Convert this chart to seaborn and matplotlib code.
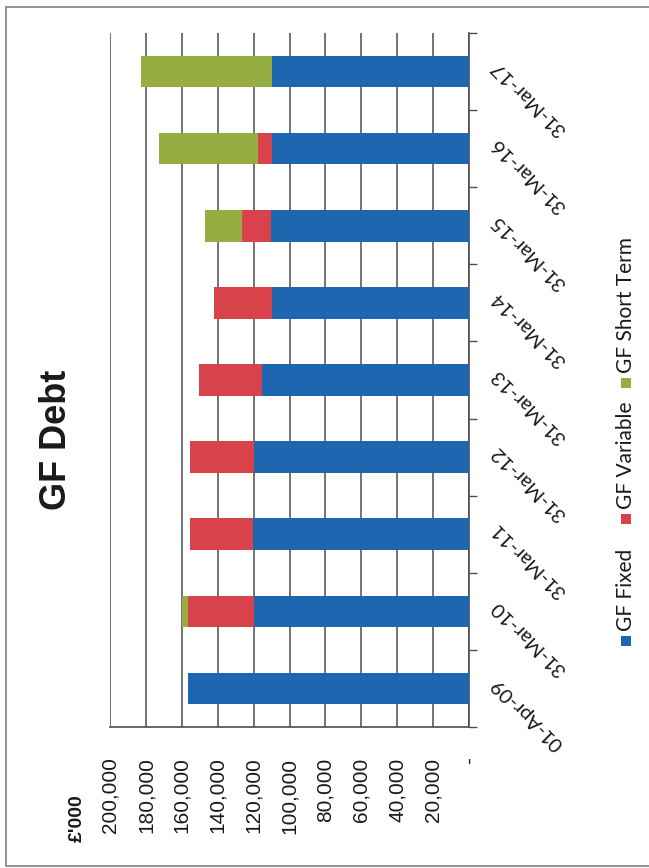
import matplotlib
matplotlib.use("Agg")
import matplotlib.pyplot as plt
from matplotlib.patches import Rectangle
from matplotlib.lines import Line2D
from matplotlib.transforms import ScaledTranslation
import seaborn as sns
import pandas as pd
import numpy as np

# Balance dates (chronological) and debt components in £'000
dates = ["01-Apr-09", "31-Mar-10", "31-Mar-11", "31-Mar-12", "31-Mar-13",
         "31-Mar-14", "31-Mar-15", "31-Mar-16", "31-Mar-17"]
gf_fixed = [156400, 119800, 120100, 120000, 115300, 109800, 110100, 110000, 110000]
gf_variable = [0, 36700, 35300, 35300, 35200, 32300, 16400, 7300, 0]
gf_short_term = [0, 3500, 0, 0, 0, 0, 20800, 55200, 73000]
series_names = ["GF Fixed", "GF Variable", "GF Short Term"]
value_ticks = [0, 20000, 40000, 60000, 80000, 100000, 120000, 140000, 160000, 180000, 200000]

colors = {"GF Fixed": "#1F66B0", "GF Variable": "#D8434B", "GF Short Term": "#96AE41"}

df = pd.DataFrame({"date": dates, "GF Fixed": gf_fixed,
                   "GF Variable": gf_variable, "GF Short Term": gf_short_term})
df["top_variable"] = df["GF Fixed"] + df["GF Variable"]
df["top_short"] = df["top_variable"] + df["GF Short Term"]

sns.set_style("white")
plt.rcParams["font.family"] = ["Liberation Sans", "DejaVu Sans"]

W, H = 649, 868
def fpx(x, y):
    return x / W, 1 - y / H

fig = plt.figure(figsize=(W / 100, H / 100), dpi=100)
x0, y0 = fpx(110, 727)
x1, y1 = fpx(469, 33)
ax = fig.add_axes([x0, y0, x1 - x0, y1 - y0])

# Stacked bars: draw cumulative totals from the top layer down
order = dates[::-1]
for col, name in [("top_short", "GF Short Term"), ("top_variable", "GF Variable"), ("GF Fixed", "GF Fixed")]:
    sns.barplot(data=df, y="date", x=col, order=order, orient="h", color=colors[name],
                width=0.41, saturation=1, errorbar=None, linewidth=0, ax=ax, zorder=3)

ax.set_xlim(200000, 0)
ax.set_ylim(8.5, -0.5)
ax.set_xlabel("")
ax.set_ylabel("")

grid_c = "#4d4d4d"
ax.set_xticks(value_ticks)
ax.set_xticklabels(["-" if v == 0 else f"{v:,}" for v in value_ticks])
ax.xaxis.grid(True, color=grid_c, lw=1.1, zorder=0)
ax.yaxis.grid(False)
ax.tick_params(axis="x", direction="out", length=6, width=1, color=grid_c,
               pad=16, labelsize=15, labelrotation=90, labelcolor="#1a1a1a")

for s in ["left", "top"]:
    ax.spines[s].set_visible(False)
for s in ["right", "bottom"]:
    ax.spines[s].set_color(grid_c)
    ax.spines[s].set_linewidth(1.2)

ax.yaxis.tick_right()
ax.set_yticks(np.arange(-0.5, 9, 1), minor=True)
ax.tick_params(axis="y", which="major", length=0, pad=18)
ax.tick_params(axis="y", which="minor", direction="out", length=6, width=1, color=grid_c)
lift = ScaledTranslation(0, 8 / 100, fig.dpi_scale_trans)
for lbl in ax.get_yticklabels():
    lbl.set_rotation(135)
    lbl.set_rotation_mode("anchor")
    lbl.set_ha("right")
    lbl.set_va("center")
    lbl.set_family(["Lato", "DejaVu Sans"])
    lbl.set_fontsize(14.5)
    lbl.set_color("#1a1a1a")
    lbl.set_transform(lbl.get_transform() + lift)

# Title and unit label
tx, ty = fpx(56, 440)
fig.text(tx, ty, "GF Debt", rotation=90, fontsize=26, fontweight="bold",
         ha="center", va="center", color="#1a1a1a")
ux, uy = fpx(77, 818)
fig.text(ux, uy, "£'000", rotation=90, fontsize=14, fontweight="bold",
         ha="center", va="center", color="#1a1a1a")

# Legend column
leg_x = 626
for name, sq_y in [("GF Fixed", 641), ("GF Variable", 519), ("GF Short Term", 383)]:
    rx, ry = fpx(leg_x - 5, sq_y + 5)
    fig.add_artist(Rectangle((rx, ry), 10 / W, 10 / H, transform=fig.transFigure,
                             facecolor=colors[name], edgecolor="none"))
    lx, ly = fpx(leg_x, sq_y - 10)
    fig.text(lx, ly, name, rotation=90, rotation_mode="anchor", ha="left", va="center",
             fontsize=15, family=["Lato", "DejaVu Sans"], color="#1a1a1a")

# Page frame
frame_c = "#8c8c8c"
for (xa, ya), (xb, yb) in [((6, 7), (649, 7)), ((6, 7), (6, 866)), ((6, 866), (649, 866))]:
    pa, pb = fpx(xa, ya), fpx(xb, yb)
    fig.add_artist(Line2D([pa[0], pb[0]], [pa[1], pb[1]], transform=fig.transFigure,
                          color=frame_c, lw=1.3))

fig.savefig("out.png", dpi=100, facecolor="white")
